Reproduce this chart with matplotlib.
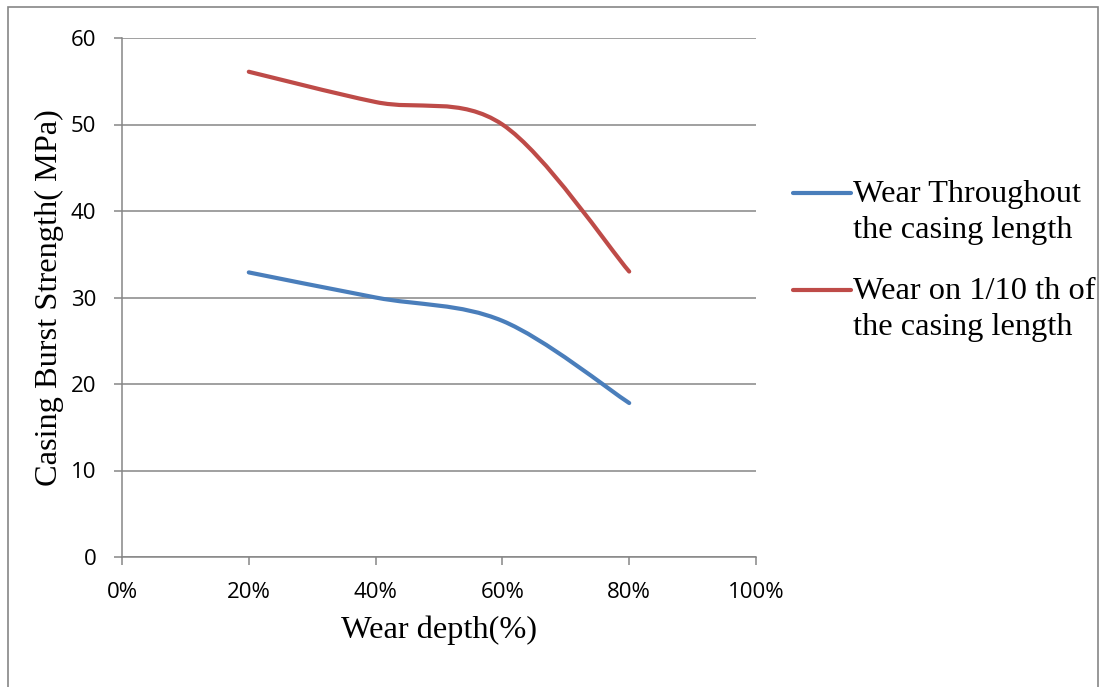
"""Casing burst strength vs wear depth, Excel-style smoothed lines."""

import numpy as np
import matplotlib

matplotlib.use("Agg")
import matplotlib.pyplot as plt
from matplotlib.path import Path
from matplotlib.patches import PathPatch, Rectangle
from matplotlib.lines import Line2D
from matplotlib.legend_handler import HandlerLine2D
from matplotlib.ticker import FixedLocator, PercentFormatter

wear_depth = [0.2, 0.4, 0.6, 0.8]
wear_throughout = [32.9, 30.0, 27.3, 17.8]
wear_tenth = [56.1, 52.6, 50.0, 33.0]

series_labels = [
    "Wear Throughout\nthe casing length",
    "Wear on 1/10 th of\nthe casing length",
]
series_colors = ["#4A7EBB", "#BE4B48"]

x_ticks = [0.0, 0.2, 0.4, 0.6, 0.8, 1.0]
y_ticks = [0, 10, 20, 30, 40, 50, 60]

GRID = "#868686"
SERIF = ["Liberation Serif", "DejaVu Serif"]
SERIF_SIZE = 23.3


def smooth_path(xs, ys):
    # Excel "smoothed line": cubic Bezier with Catmull-Rom style control points
    pts = np.column_stack([xs, ys]).astype(float)
    n = len(pts)
    verts = [pts[0]]
    codes = [Path.MOVETO]
    for i in range(n - 1):
        p_prev = pts[max(i - 1, 0)]
        p0 = pts[i]
        p1 = pts[i + 1]
        p_next = pts[min(i + 2, n - 1)]
        c1 = p0 + (p1 - p_prev) / 6.0
        c2 = p1 - (p_next - p0) / 6.0
        verts += [c1, c2, p1]
        codes += [Path.CURVE4] * 3
    return Path(verts, codes)


class FirstLineHandler(HandlerLine2D):
    """Put the legend line level with the first line of a two-line label."""

    def create_artists(self, legend, orig_handle, xdescent, ydescent,
                       width, height, fontsize, trans):
        artists = super().create_artists(legend, orig_handle, xdescent, ydescent,
                                         width, height, fontsize, trans)
        shift = 0.58 * fontsize
        for a in artists:
            a.set_ydata(np.asarray(a.get_ydata()) + shift)
        return artists


fig = plt.figure(figsize=(11.05, 6.87), dpi=100)
ax = fig.add_axes([122 / 1105, 1 - 557 / 687, (756 - 122) / 1105, (557 - 38) / 687])

handles = []
for ys, color, label in zip([wear_throughout, wear_tenth], series_colors, series_labels):
    patch = PathPatch(smooth_path(wear_depth, ys), facecolor="none", edgecolor=color,
                      lw=3.0, capstyle="round", joinstyle="round", zorder=3)
    ax.add_patch(patch)
    handles.append(Line2D([], [], color=color, lw=3.0, solid_capstyle="round", label=label))

ax.set_xlim(0, 1)
ax.set_ylim(0, 60)
ax.xaxis.set_major_locator(FixedLocator(x_ticks))
ax.xaxis.set_major_formatter(PercentFormatter(1.0, decimals=0))
ax.yaxis.set_major_locator(FixedLocator(y_ticks))

ax.grid(axis="y", color=GRID, lw=1.1)
ax.set_axisbelow(True)
for side in ["top", "right"]:
    ax.spines[side].set_visible(False)
for side in ["left", "bottom"]:
    ax.spines[side].set_color(GRID)
    ax.spines[side].set_linewidth(1.1)

ax.tick_params(axis="both", colors=GRID, length=6, width=1.1, direction="out",
               labelcolor="black", labelsize=16)
ax.tick_params(axis="x", pad=12)
ax.tick_params(axis="y", pad=12.5)
for t in ax.get_xticklabels() + ax.get_yticklabels():
    t.set_fontfamily(["Open Sans", "DejaVu Sans"])

ax.set_xlabel("Wear depth(%)", family=SERIF, fontsize=SERIF_SIZE)
ax.set_ylabel("Casing Burst Strength( MPa)", family=SERIF, fontsize=SERIF_SIZE)
ax.xaxis.set_label_coords(0.5, -0.113)
ax.yaxis.set_label_coords(-0.092, 0.5)

leg = fig.legend(handles=handles, loc="center left", bbox_to_anchor=(793 / 1105, 0.62),
                 frameon=False, prop={"family": SERIF, "size": SERIF_SIZE},
                 handlelength=1.78, handletextpad=0.08, borderpad=0, borderaxespad=0,
                 labelspacing=0.98,
                 handler_map={Line2D: FirstLineHandler()})
for t in leg.get_texts():
    t.set_linespacing(1.33)

# outer chart frame (bottom edge sits below the picture)
fig.add_artist(Rectangle((8 / 1105, -0.05), (1098 - 8) / 1105, 1 - 7 / 687 + 0.05,
                         transform=fig.transFigure, fill=False, edgecolor=GRID, lw=1.2))

fig.savefig("out.png", dpi=100)
